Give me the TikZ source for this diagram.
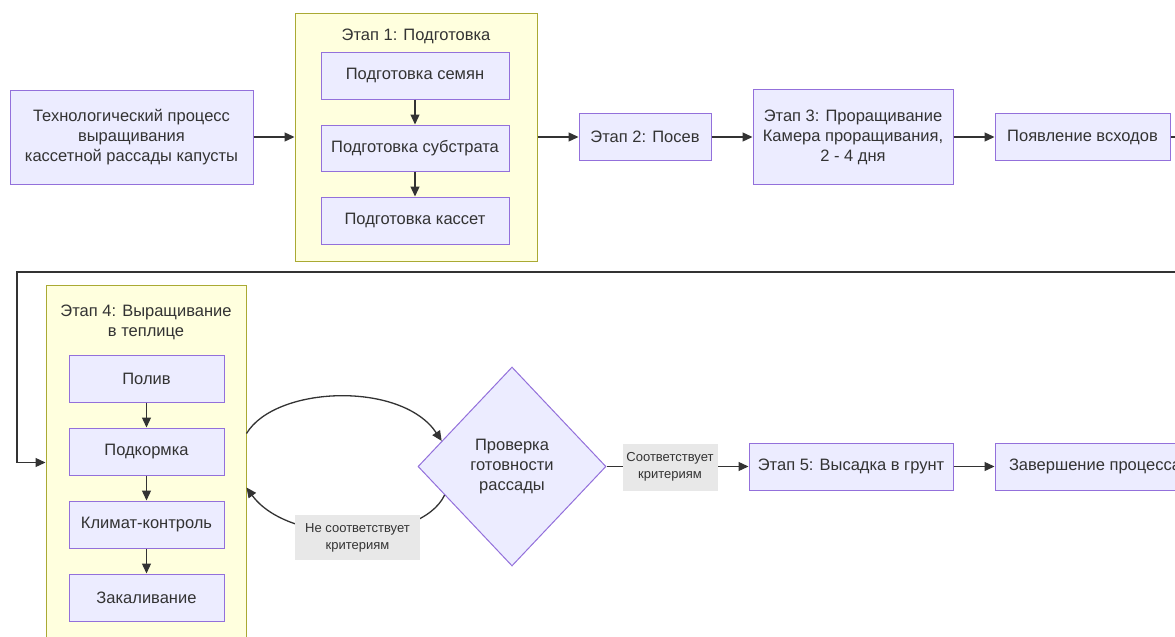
\documentclass[tikz,border=0pt]{standalone}
\usepackage{fontspec}
\setmainfont{Liberation Sans}
\usepackage{tikz}
\usetikzlibrary{arrows.meta,shapes.geometric}
\definecolor{boxfill}{HTML}{ECECFF}
\definecolor{boxline}{HTML}{9370DB}
\definecolor{grpfill}{HTML}{FFFFDE}
\definecolor{grpline}{HTML}{AAAA33}
\definecolor{lblfill}{HTML}{E8E8E8}
\definecolor{wire}{HTML}{333333}
\tikzset{
        stepbox/.style={draw=boxline,fill=boxfill,line width=1pt,align=center,inner sep=0pt,text=wire,font=\fontsize{16.5}{20}\selectfont},
        group/.style={draw=grpline,fill=grpfill,line width=1pt,inner sep=0pt},
        grptitle/.style={align=center,inner sep=0pt,text=wire,font=\fontsize{16.5}{20}\selectfont},
        decision/.style={diamond,draw=boxline,fill=boxfill,line width=1pt,align=center,inner sep=0pt,text=wire,font=\fontsize{16.5}{20}\selectfont},
        lbl/.style={fill=lblfill,align=center,inner sep=0pt,text=wire,font=\fontsize{13}{17}\selectfont},
        arr/.style={draw=wire,line width=1.3pt,-{Triangle[length=10pt,width=9pt]}},
}

\begin{document}
\begin{tikzpicture}[x=1pt,y=-1pt]
        \fill[white] (0,0) rectangle (1175,637);
        \useasboundingbox (0,0) rectangle (1175,637);
        \draw (131.5,137) node[stepbox,minimum width=243,minimum height=94](start) {Технологический процесс\\выращивания\\кассетной рассады капусты};
        \draw (416,137) node[group,minimum width=242,minimum height=248](c1) {};
        \draw (416,36) node[grptitle](c1title) {Этап 1: Подготовка};
        \draw (415,75.5) node[stepbox,minimum width=188,minimum height=47](seeds) {Подготовка семян};
        \draw (415,148) node[stepbox,minimum width=188,minimum height=46](substrate) {Подготовка субстрата};
        \draw (415,220.5) node[stepbox,minimum width=188,minimum height=47](cassettes) {Подготовка кассет};
        \draw (645,137) node[stepbox,minimum width=132,minimum height=47](sowing) {Этап 2: Посев};
        \draw (853,137) node[stepbox,minimum width=200,minimum height=95](germ) {Этап 3: Проращивание\\Камера проращивания,\\2 - 4 дня};
        \draw (1082.5,137) node[stepbox,minimum width=175,minimum height=47](shoots) {Появление всходов};
        \draw (146,462.5) node[group,minimum width=200,minimum height=355](c4) {};
        \draw (146,322) node[grptitle](c4title) {Этап 4: Выращивание\\в теплице};
        \draw (146.5,378.5) node[stepbox,minimum width=155,minimum height=47](watering) {Полив};
        \draw (146.5,451.5) node[stepbox,minimum width=155,minimum height=47](feeding) {Подкормка};
        \draw (146.5,524.5) node[stepbox,minimum width=155,minimum height=47](climate) {Климат-контроль};
        \draw (146.5,597.5) node[stepbox,minimum width=155,minimum height=47](hardening) {Закаливание};
        \draw (512,466.5) node[decision,minimum width=188,minimum height=199](ready) {Проверка\\готовности\\рассады};
        \draw (851,466.5) node[stepbox,minimum width=204,minimum height=47](planting) {Этап 5: Высадка в грунт};
        \draw (1095,466.5) node[stepbox,minimum width=200,minimum height=47](finish) {Завершение процесса};
        \coordinate (r1) at (1195,137);
        \coordinate (r2) at (17,272);
        \draw[arr] (start) -- (c1);
        \draw[arr] (seeds) -- (substrate);
        \draw[arr] (substrate) -- (cassettes);
        \draw[arr] (c1) -- (sowing);
        \draw[arr] (sowing) -- (germ);
        \draw[arr] (germ) -- (shoots);
        \draw[arr] (shoots) -- (r1) |- (r2) |- (c4);
        \draw[arr] (watering) -- (feeding);
        \draw[arr] (feeding) -- (climate);
        \draw[arr] (climate) -- (hardening);
        \draw[arr] ([yshift=29pt]c4.east) .. controls +(29,-48) and +(-40,-60) .. (ready.160);
        \draw[arr] (ready.203) .. controls +(-24,50) and +(42,58) .. ([yshift=-25pt]c4.east);
        \draw[arr] (ready) -- (planting);
        \draw[arr] (planting) -- (finish);
        \draw (357.5,537.5) node[lbl,minimum width=125,minimum height=45](nolbl) {Не соответствует\\критериям};
        \draw (670,467) node[lbl,minimum width=95,minimum height=47](yeslbl) {Соответствует\\критериям};
    \end{tikzpicture}
\end{document}
